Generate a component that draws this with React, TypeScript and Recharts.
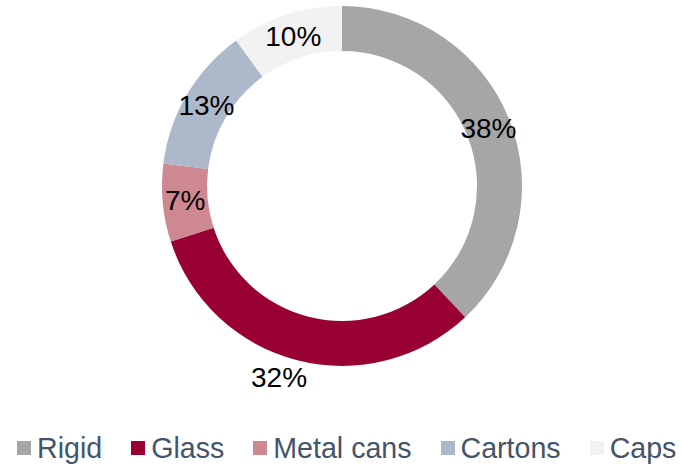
import { PieChart, Pie, Cell, Legend } from "recharts"

const CATEGORIES = ["Rigid", "Glass", "Metal cans", "Cartons", "Caps"]
const SHARES = [38, 32, 7, 13, 10]
const COLORS = ["#A6A6A6", "#990033", "#CD8891", "#ADB9CA", "#F2F2F2"]

const data = CATEGORIES.map((name, i) => ({ name, value: SHARES[i] }))

const RAD = Math.PI / 180
const FONT = "'Liberation Sans', Arial, sans-serif"

// ─── Slice labels: inside the ring, except the large bottom slice ──────────────
function SliceLabel({ cx, cy, midAngle, innerRadius, outerRadius, value, index }: any) {
  const outside = index === 1
  const r = outside ? outerRadius + 21 : (innerRadius + outerRadius) / 2
  const x = cx + r * Math.cos(-midAngle * RAD) - (outside ? 13 : 0)
  const y = cy + r * Math.sin(-midAngle * RAD) - (outside ? 3 : 0)
  return (
    <text
      x={x}
      y={y}
      fill="#000"
      fontSize={28}
      fontFamily={FONT}
      textAnchor="middle"
      dominantBaseline="central"
    >
      {`${value}%`}
    </text>
  )
}

// ─── Legend ───────────────────────────────────────────────────────────────────
function SquareLegend() {
  return (
    <div
      style={{
        display: "flex",
        justifyContent: "flex-start",
        alignItems: "center",
        gap: 29,
        fontFamily: FONT,
        fontSize: 28.6,
        color: "#44546A",
        lineHeight: "32px",
        paddingLeft: 17,
        whiteSpace: "nowrap",
        width: 682,
        boxSizing: "border-box",
      }}
    >
      {CATEGORIES.map((c, i) => (
        <div key={c} style={{ display: "flex", alignItems: "center", flexShrink: 0 }}>
          <span style={{ width: 14, height: 14, background: COLORS[i], marginRight: 6, display: "inline-block" }} />
          <span>{c}</span>
        </div>
      ))}
    </div>
  )
}

export default function App() {
  return (
    <div style={{ position: "absolute", left: 0, top: 0, width: 682, height: 465, background: "#fff" }}>
      <PieChart width={682} height={465} margin={{ top: 0, right: 0, bottom: 0, left: 0 }}>
        <Pie
          data={data}
          dataKey="value"
          nameKey="name"
          cx={342}
          cy={186}
          innerRadius={135}
          outerRadius={180}
          startAngle={90}
          endAngle={-270}
          stroke="none"
          label={SliceLabel}
          labelLine={false}
          isAnimationActive={false}
        >
          {data.map((_, i) => (
            <Cell key={i} fill={COLORS[i]} />
          ))}
        </Pie>
        <Legend
          content={() => <SquareLegend />}
          wrapperStyle={{ left: 0, top: 432, width: 682 }}
        />
      </PieChart>
    </div>
  )
}
